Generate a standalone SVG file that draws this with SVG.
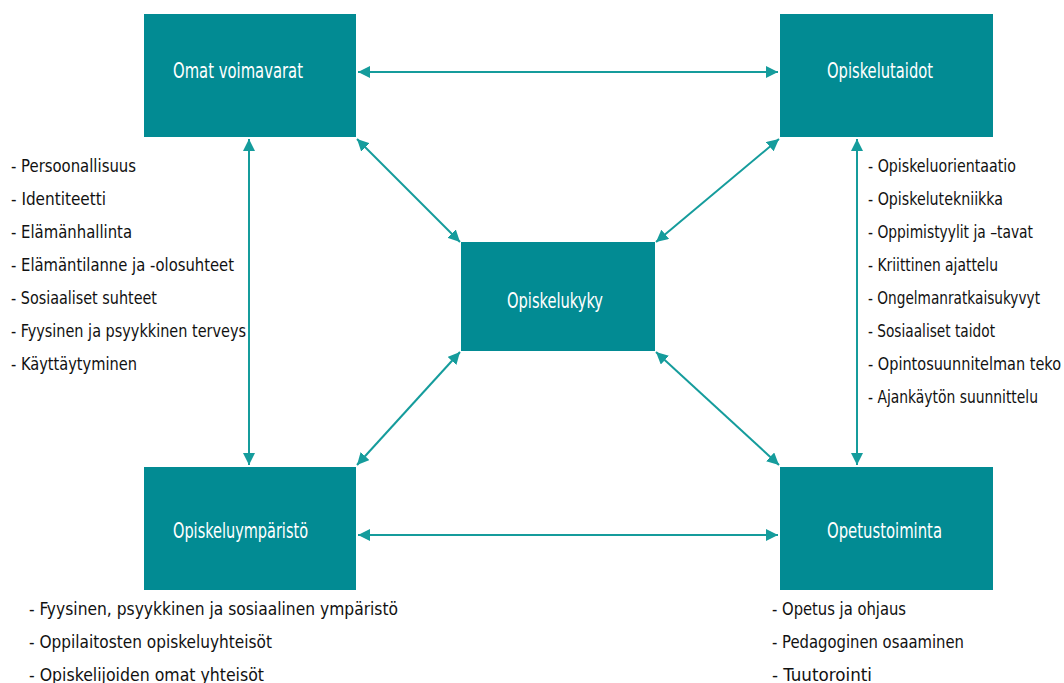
<svg xmlns="http://www.w3.org/2000/svg" width="1064" height="683" viewBox="0 0 1064 683">
<style>
.box{fill:#028b93}
.bl{font-family:"DejaVu Sans Condensed","Liberation Sans",sans-serif;font-stretch:condensed;font-size:21px;fill:#ffffff}
.tx{font-family:"DejaVu Sans Condensed","Liberation Sans",sans-serif;font-stretch:condensed;font-size:18.5px;fill:#111111}
.c{stroke:#159c9c;stroke-width:2;fill:none;marker-start:url(#ah);marker-end:url(#ah)}
</style>
<defs>
<marker id="ah" viewBox="0 0 10 10" refX="10" refY="5" markerWidth="6" markerHeight="6" orient="auto-start-reverse">
<path d="M0,0 L10,5 L0,10 z" fill="#159c9c"/>
</marker>
</defs>
<rect width="1064" height="683" fill="#ffffff"/>
<g id="connectors">
<line class="c" x1="358" y1="72" x2="778" y2="72"/>
<line class="c" x1="358" y1="535" x2="778" y2="535"/>
<line class="c" x1="249" y1="139" x2="249" y2="465"/>
<line class="c" x1="857" y1="139" x2="857" y2="465"/>
<line class="c" x1="357" y1="139" x2="460" y2="242"/>
<line class="c" x1="779" y1="139" x2="656" y2="242"/>
<line class="c" x1="357" y1="465" x2="460" y2="352"/>
<line class="c" x1="656" y1="352" x2="779" y2="465"/>
</g>
<g id="omat-voimavarat">
<rect class="box" x="144" y="14" width="212" height="123"/>
<text class="bl" x="173" y="78" textLength="130" lengthAdjust="spacingAndGlyphs">Omat  voimavarat</text>
</g>
<g id="opiskelutaidot">
<rect class="box" x="780" y="14" width="213" height="123"/>
<text class="bl" x="827" y="78" textLength="106" lengthAdjust="spacingAndGlyphs">Opiskelutaidot</text>
</g>
<g id="opiskelukyky">
<rect class="box" x="461" y="242" width="194" height="109"/>
<text class="bl" x="507" y="308" textLength="96" lengthAdjust="spacingAndGlyphs">Opiskelukyky</text>
</g>
<g id="opiskeluymparisto">
<rect class="box" x="144" y="467" width="212" height="123"/>
<text class="bl" x="173" y="538" textLength="135" lengthAdjust="spacingAndGlyphs">Opiskeluympäristö</text>
</g>
<g id="opetustoiminta">
<rect class="box" x="780" y="467" width="213" height="123"/>
<text class="bl" x="827" y="538" textLength="115" lengthAdjust="spacingAndGlyphs">Opetustoiminta</text>
</g>
<g id="list-omat">
<text class="tx" x="11" y="172" textLength="125" lengthAdjust="spacingAndGlyphs">- Persoonallisuus</text>
<text class="tx" x="11" y="205" textLength="95" lengthAdjust="spacingAndGlyphs">-  Identiteetti</text>
<text class="tx" x="11" y="238" textLength="121" lengthAdjust="spacingAndGlyphs">- Elämänhallinta</text>
<text class="tx" x="11" y="271" textLength="223" lengthAdjust="spacingAndGlyphs">- Elämäntilanne ja -olosuhteet</text>
<text class="tx" x="11" y="304" textLength="146" lengthAdjust="spacingAndGlyphs">- Sosiaaliset suhteet</text>
<text class="tx" x="11" y="337" textLength="235" lengthAdjust="spacingAndGlyphs">- Fyysinen ja psyykkinen terveys</text>
<text class="tx" x="11" y="370" textLength="126" lengthAdjust="spacingAndGlyphs">- Käyttäytyminen</text>
</g>
<g id="list-taidot">
<text class="tx" x="868" y="172" textLength="148" lengthAdjust="spacingAndGlyphs">- Opiskeluorientaatio</text>
<text class="tx" x="868" y="205" textLength="135" lengthAdjust="spacingAndGlyphs">- Opiskelutekniikka</text>
<text class="tx" x="868" y="238" textLength="165" lengthAdjust="spacingAndGlyphs">- Oppimistyylit ja –tavat</text>
<text class="tx" x="868" y="271" textLength="130" lengthAdjust="spacingAndGlyphs">- Kriittinen ajattelu</text>
<text class="tx" x="868" y="304" textLength="172" lengthAdjust="spacingAndGlyphs">- Ongelmanratkaisukyvyt</text>
<text class="tx" x="868" y="337" textLength="127" lengthAdjust="spacingAndGlyphs">- Sosiaaliset taidot</text>
<text class="tx" x="868" y="370" textLength="193" lengthAdjust="spacingAndGlyphs">- Opintosuunnitelman teko</text>
<text class="tx" x="868" y="403" textLength="170" lengthAdjust="spacingAndGlyphs">- Ajankäytön suunnittelu</text>
</g>
<g id="list-ymparisto">
<text class="tx" x="29" y="615" textLength="369" lengthAdjust="spacingAndGlyphs">-  Fyysinen, psyykkinen ja sosiaalinen ympäristö</text>
<text class="tx" x="29" y="648" textLength="243" lengthAdjust="spacingAndGlyphs">-  Oppilaitosten opiskeluyhteisöt</text>
<text class="tx" x="29" y="681" textLength="235" lengthAdjust="spacingAndGlyphs">-  Opiskelijoiden omat yhteisöt</text>
</g>
<g id="list-opetus">
<text class="tx" x="772" y="615" textLength="134" lengthAdjust="spacingAndGlyphs">- Opetus ja ohjaus</text>
<text class="tx" x="772" y="648" textLength="192" lengthAdjust="spacingAndGlyphs">- Pedagoginen osaaminen</text>
<text class="tx" x="772" y="681" textLength="100" lengthAdjust="spacingAndGlyphs">- Tuutorointi</text>
</g>
</svg>
